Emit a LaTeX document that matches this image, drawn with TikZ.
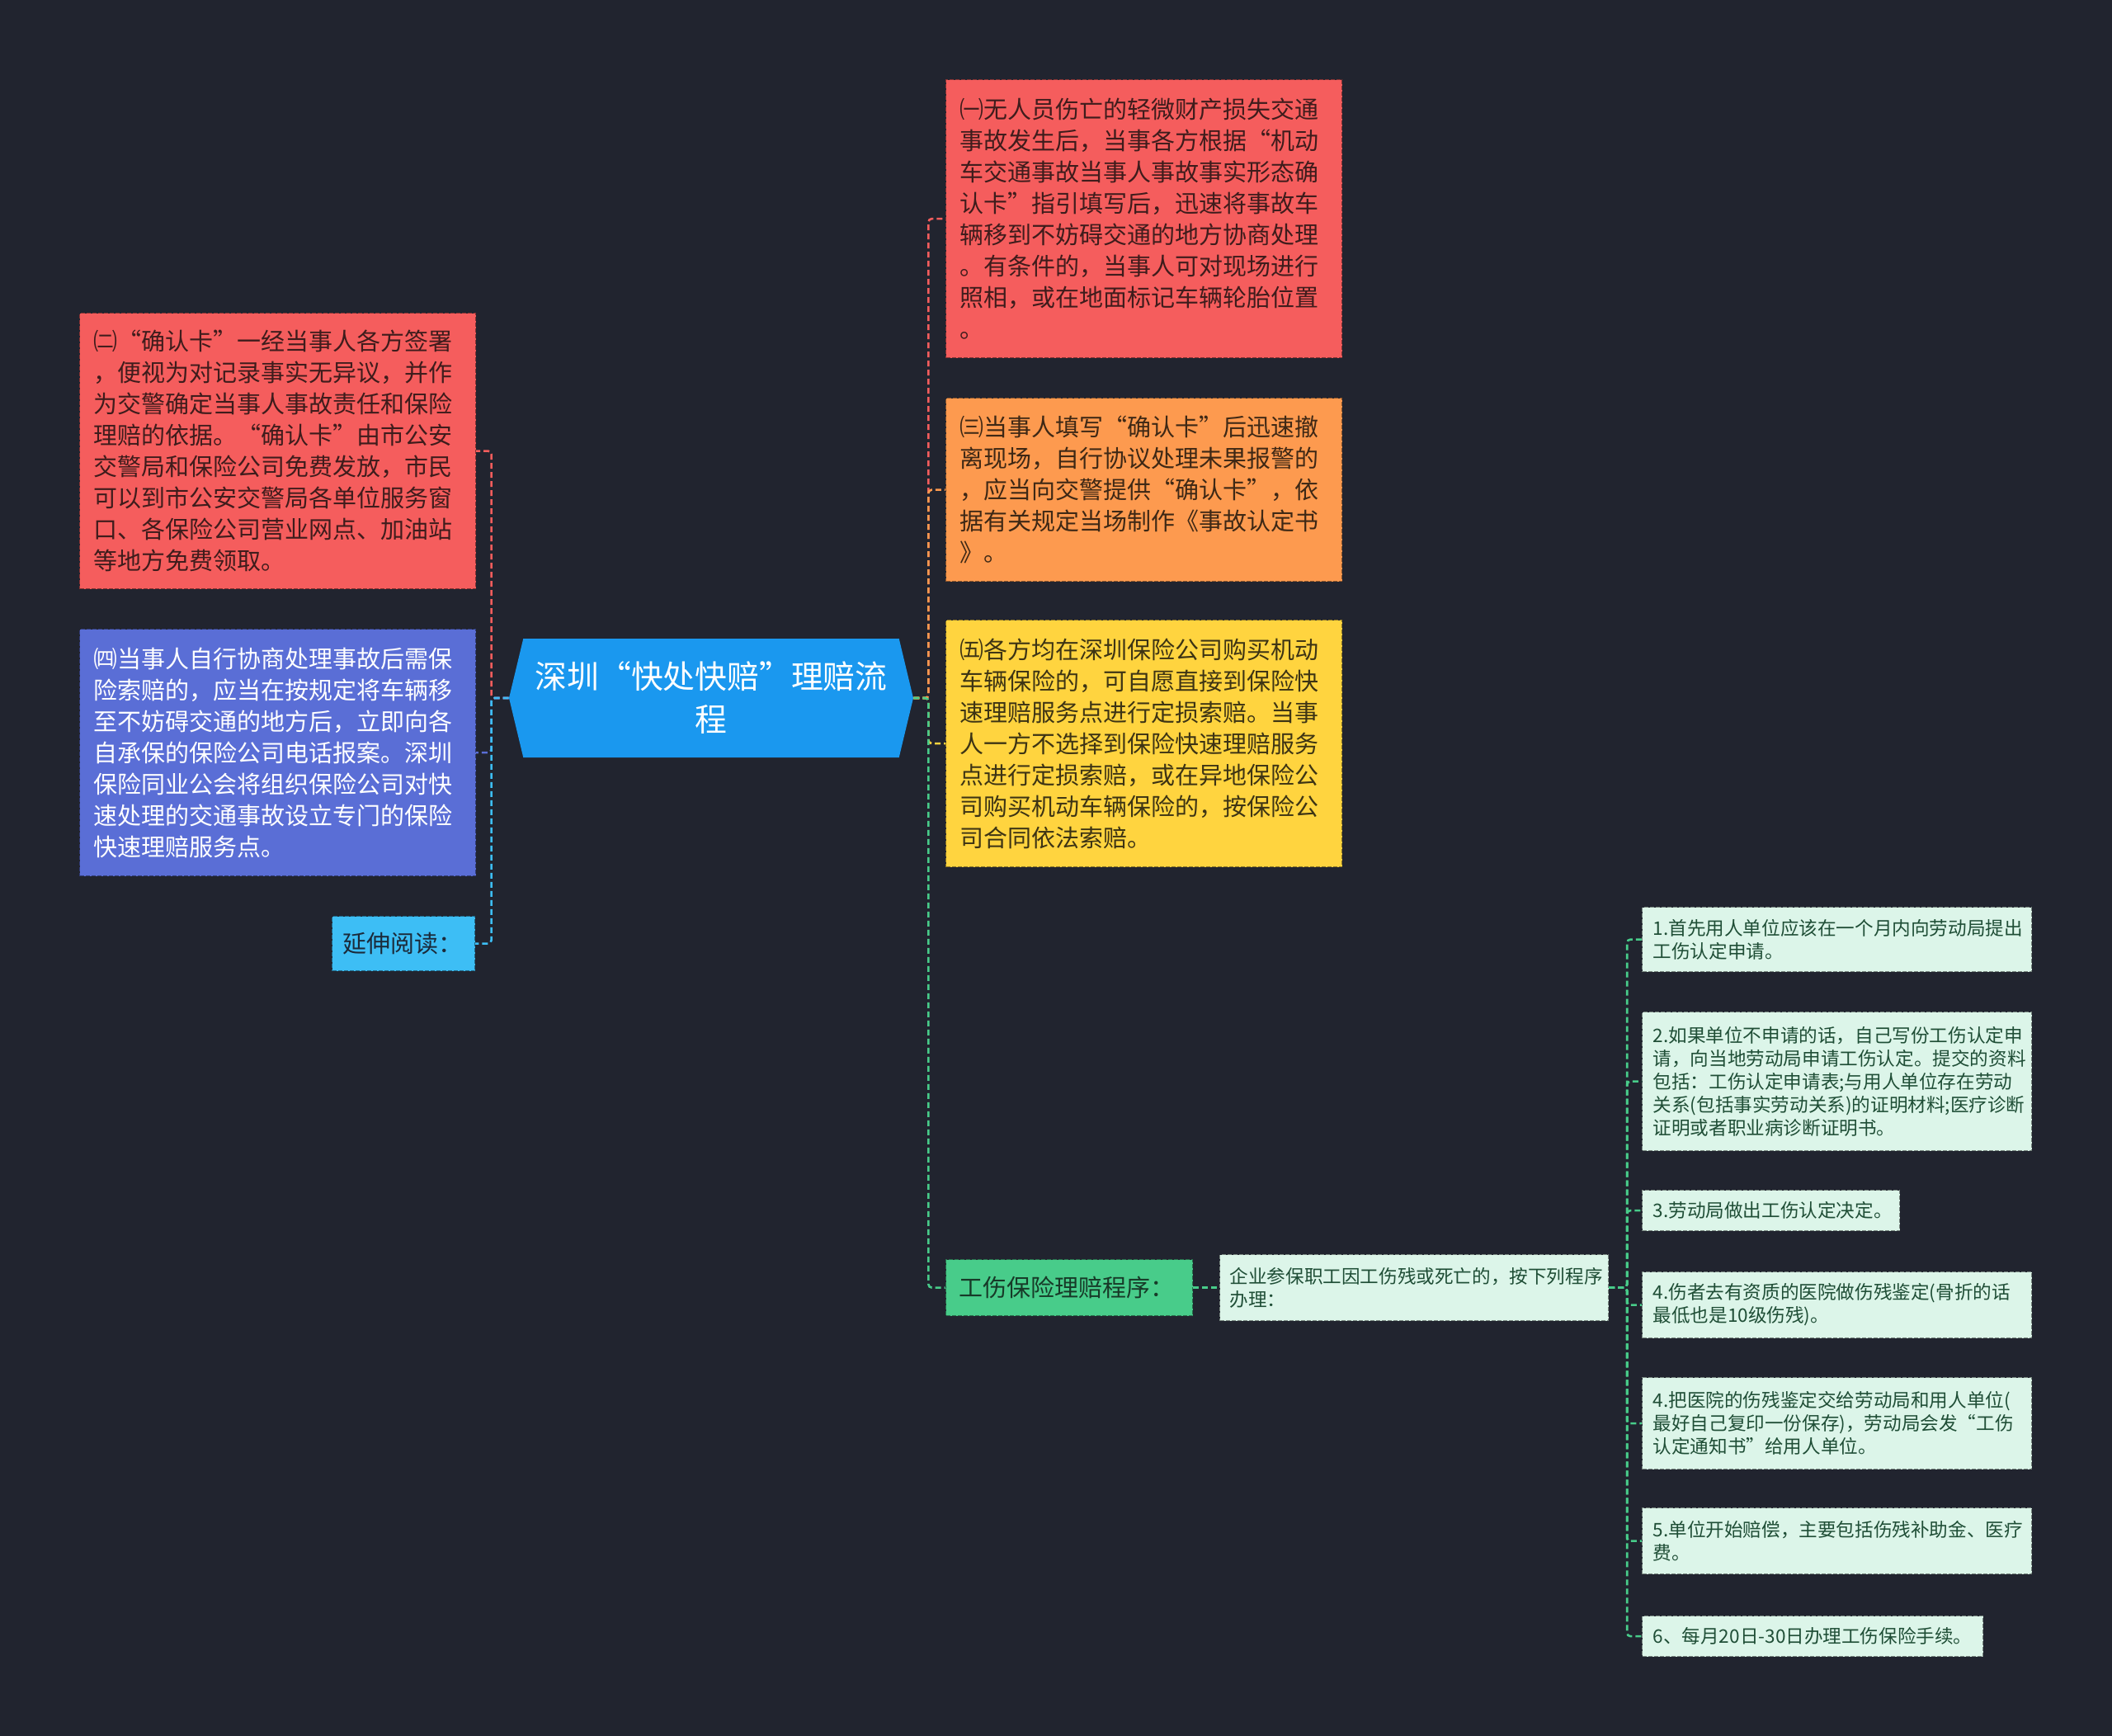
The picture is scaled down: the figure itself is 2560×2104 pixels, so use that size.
\documentclass[tikz,border=0pt]{standalone}
\usepackage{fontspec}
\setmainfont{Noto Sans CJK SC}
\usepackage{tikz}
\usetikzlibrary{shapes.symbols, positioning}

\definecolor{bgDark}{HTML}{21242F}
\definecolor{cBlue}{HTML}{1A98EF}
\definecolor{cRed}{HTML}{F55D5D}
\definecolor{cOrange}{HTML}{FD9A4F}
\definecolor{cYellow}{HTML}{FFD43F}
\definecolor{cViolet}{HTML}{5A6ED6}
\definecolor{cCyan}{HTML}{3DBEF5}
\definecolor{cGreen}{HTML}{48CC8A}
\definecolor{cMint}{HTML}{DCF5E9}
\definecolor{tRed}{HTML}{3F1C1C}
\definecolor{tOrange}{HTML}{3E2815}
\definecolor{tYellow}{HTML}{3D3414}
\definecolor{tCyan}{HTML}{1B2A3A}
\definecolor{tGreen}{HTML}{173A28}
\definecolor{tMint}{HTML}{1F4E36}

\tikzset{
  card/.style={anchor=north west, fill=#1, draw=#1!55!black,
    dash pattern=on 2.5pt off 1pt, line width=0.6pt, inner ysep=0pt, align=left},
  bigcard/.style={inner xsep=8.5pt, text width=223pt,
    font=\fontsize{14.5pt}{19pt}\selectfont},
  smallcard/.style={inner xsep=6.5pt, text width=223pt,
    font=\fontsize{11.3pt}{14pt}\selectfont},
  link/.style={draw=#1, dash pattern=on 3.5pt off 2pt, line width=1.3pt,
    rounded corners=2pt},
}

\begin{document}
\begin{tikzpicture}[x=0.5pt, y=-0.5pt]
  % Background
  \fill[bgDark] (0,0) rectangle (2560,2104);
  \useasboundingbox (0,0) rectangle (2560,2104);

  % Root
  \node[signal, signal to=west and east, signal pointer angle=153, fill=cBlue,
    text=white, minimum width=245pt, minimum height=72pt, inner sep=0pt,
    align=center, font=\fontsize{19.4pt}{26pt}\selectfont] (root) at (862,846)
    {深圳“快处快赔”理赔流\\程};

  % Right side
  \node[card=cRed, bigcard, text=tRed, minimum height=168.5pt] (b1) at (1146,96)
    {㈠无人员伤亡的轻微财产损失交通\\事故发生后，当事各方根据“机动\\车交通事故当事人事故事实形态确\\认卡”指引填写后，迅速将事故车\\辆移到不妨碍交通的地方协商处理\\。有条件的，当事人可对现场进行\\照相，或在地面标记车辆轮胎位置\\。};
  \node[card=cOrange, bigcard, text=tOrange, minimum height=111pt] (b3) at (1146,482)
    {㈢当事人填写“确认卡”后迅速撤\\离现场，自行协议处理未果报警的\\，应当向交警提供“确认卡”，依\\据有关规定当场制作《事故认定书\\》。};
  \node[card=cYellow, bigcard, text=tYellow, minimum height=149.5pt] (b5) at (1146,751)
    {㈤各方均在深圳保险公司购买机动\\车辆保险的，可自愿直接到保险快\\速理赔服务点进行定损索赔。当事\\人一方不选择到保险快速理赔服务\\点进行定损索赔，或在异地保险公\\司购买机动车辆保险的，按保险公\\司合同依法索赔。};
  \node[card=cGreen, text=tGreen, inner xsep=8pt, text width=133.5pt,
    minimum height=34pt, font=\fontsize{14.5pt}{19pt}\selectfont] (injury) at (1146,1526)
    {工伤保险理赔程序：};

  % Left side
  \node[card=cRed, bigcard, text=tRed, minimum height=167pt] (b2) at (96,379)
    {㈡“确认卡”一经当事人各方签署\\，便视为对记录事实无异议，并作\\为交警确定当事人事故责任和保险\\理赔的依据。“确认卡”由市公安\\交警局和保险公司免费发放，市民\\可以到市公安交警局各单位服务窗\\口、各保险公司营业网点、加油站\\等地方免费领取。};
  \node[card=cViolet, bigcard, text=white, minimum height=149.5pt] (b4) at (96,762)
    {㈣当事人自行协商处理事故后需保\\险索赔的，应当在按规定将车辆移\\至不妨碍交通的地方后，立即向各\\自承保的保险公司电话报案。深圳\\保险同业公会将组织保险公司对快\\速处理的交通事故设立专门的保险\\快速理赔服务点。};
  \node[card=cCyan, text=tCyan, inner xsep=6.5pt, text width=73.5pt,
    minimum height=33pt, font=\fontsize{14.5pt}{19pt}\selectfont] (more) at (402,1110)
    {延伸阅读：};

  % Work injury steps
  \node[card=cMint, smallcard, text=tMint, inner xsep=6pt, text width=223.5pt,
    minimum height=40pt] (intro) at (1478,1520)
    {企业参保职工因工伤残或死亡的，按下列程序\\办理：};
  \node[card=cMint, smallcard, text=tMint, minimum height=39pt] (i1) at (1990,1099)
    {1.首先用人单位应该在一个月内向劳动局提出\\工伤认定申请。};
  \node[card=cMint, smallcard, text=tMint, minimum height=84pt] (i2) at (1990,1226)
    {2.如果单位不申请的话，自己写份工伤认定申\\请，向当地劳动局申请工伤认定。提交的资料\\包括：工伤认定申请表;与用人单位存在劳动\\关系(包括事实劳动关系)的证明材料;医疗诊断\\证明或者职业病诊断证明书。};
  \node[card=cMint, smallcard, text=tMint, text width=143pt, minimum height=24.5pt] (i3) at (1990,1442)
    {3.劳动局做出工伤认定决定。};
  \node[card=cMint, smallcard, text=tMint, minimum height=40pt] (i4) at (1990,1541)
    {4.伤者去有资质的医院做伤残鉴定(骨折的话\\最低也是10级伤残)。};
  \node[card=cMint, smallcard, text=tMint, minimum height=55.5pt] (i5) at (1990,1669)
    {4.把医院的伤残鉴定交给劳动局和用人单位(\\最好自己复印一份保存)，劳动局会发“工伤\\认定通知书”给用人单位。};
  \node[card=cMint, smallcard, text=tMint, minimum height=40pt] (i6) at (1990,1827)
    {5.单位开始赔偿，主要包括伤残补助金、医疗\\费。};
  \node[card=cMint, smallcard, text=tMint, text width=193.5pt, minimum height=24.5pt] (i7) at (1990,1958)
    {6、每月20日-30日办理工伤保险手续。};

  % Connectors, right
  \draw[link=cRed] (root.east) -- ++(18,0) |- (b1.west);
  \draw[link=cOrange] (root.east) -- ++(18,0) |- (b3.west);
  \draw[link=cYellow] (root.east) -- ++(18,0) |- (b5.west);
  \draw[link=cGreen] (root.east) -- ++(18,0) |- (injury.west);

  % Connectors, left
  \draw[link=cRed] (root.west) -- ++(-21,0) |- (b2.east);
  \draw[link=cViolet] (root.west) -- ++(-21,0) |- (b4.east);
  \draw[link=cCyan] (root.west) -- ++(-21,0) |- (more.east);

  % Connectors, steps
  \draw[link=cGreen] (injury.east) -- (intro.west);
  \foreach \k in {1,...,7}
    \draw[link=cGreen] (intro.east) -- ++(22,0) |- (i\k.west);
\end{tikzpicture}
\end{document}
